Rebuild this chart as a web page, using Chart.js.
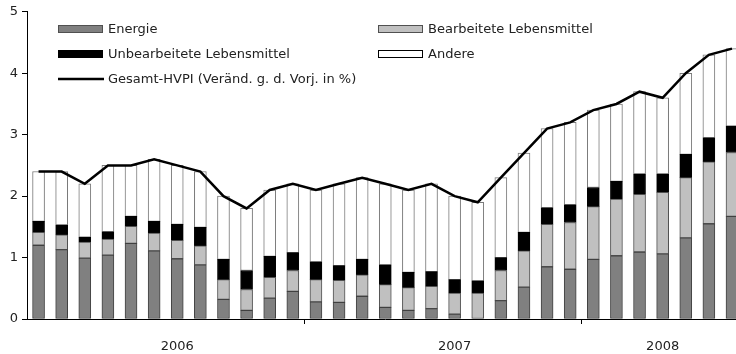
<!DOCTYPE html>
<html>
<head>
<meta charset="utf-8">
<script src="https://cdn.jsdelivr.net/npm/chart.js@4/dist/chart.umd.min.js"></script>
<style>
  html, body { margin: 0; padding: 0; background: #fff; overflow: hidden; }
  #wrap { position: absolute; left: 0; top: 0; width: 747px; height: 354px; }
</style>
</head>
<body>
<div id="wrap"><canvas id="hvpiChart"></canvas></div>
<script>
// Monate Jan 2006 bis Jul 2008
var monate = [
  "2006-01", "2006-02", "2006-03", "2006-04", "2006-05", "2006-06",
  "2006-07", "2006-08", "2006-09", "2006-10", "2006-11", "2006-12",
  "2007-01", "2007-02", "2007-03", "2007-04", "2007-05", "2007-06",
  "2007-07", "2007-08", "2007-09", "2007-10", "2007-11", "2007-12",
  "2008-01", "2008-02", "2008-03", "2008-04", "2008-05", "2008-06",
  "2008-07",
];

// Beiträge in Prozentpunkten
var energie = [
  1.20, 1.13, 0.99, 1.04, 1.23, 1.11, 0.98, 0.88, 0.32, 0.14, 0.34, 0.45,
  0.28, 0.27, 0.37, 0.19, 0.14, 0.17, 0.08, 0.00, 0.30, 0.52, 0.85, 0.81,
  0.97, 1.03, 1.09, 1.06, 1.32, 1.55, 1.67,
];
var bearbeitet = [
  0.21, 0.24, 0.26, 0.26, 0.28, 0.29, 0.30, 0.31, 0.32, 0.34, 0.34, 0.34,
  0.36, 0.36, 0.35, 0.37, 0.37, 0.36, 0.34, 0.42, 0.49, 0.59, 0.69, 0.76,
  0.86, 0.92, 0.94, 1.00, 0.98, 1.01, 1.04,
];
var unbearbeitet = [
  0.18, 0.16, 0.08, 0.12, 0.16, 0.19, 0.26, 0.30, 0.33, 0.31, 0.34, 0.29,
  0.29, 0.24, 0.25, 0.32, 0.25, 0.24, 0.22, 0.20, 0.21, 0.30, 0.27, 0.29,
  0.31, 0.29, 0.33, 0.30, 0.38, 0.39, 0.43,
];
var andere = [
  0.81, 0.87, 0.87, 1.08, 0.83, 1.01, 0.96, 0.91, 1.03, 1.01, 1.08, 1.12,
  1.17, 1.33, 1.33, 1.32, 1.34, 1.43, 1.36, 1.28, 1.30, 1.29, 1.29, 1.34,
  1.26, 1.26, 1.34, 1.24, 1.32, 1.35, 1.26,
];
var gesamt = [
  2.4, 2.4, 2.2, 2.5, 2.5, 2.6, 2.5, 2.4, 2.0, 1.8, 2.1, 2.2,
  2.1, 2.2, 2.3, 2.2, 2.1, 2.2, 2.0, 1.9, 2.3, 2.7, 3.1, 3.2,
  3.4, 3.5, 3.7, 3.6, 4.0, 4.3, 4.4,
];

var yTicks = [0, 1, 2, 3, 4, 5];

var schrift = "'DejaVu Sans', sans-serif";

// Jahreslabel jeweils in der Mitte der Monate eines Jahres
var jahrLabel = {};
var jahre = {};
monate.forEach(function (m, i) {
  var j = m.slice(0, 4);
  (jahre[j] = jahre[j] || []).push(i);
});
Object.keys(jahre).forEach(function (j) {
  var idx = jahre[j];
  jahrLabel[idx[Math.floor(idx.length / 2)]] = j;
});

// Legende in zwei Spalten, wie im Bericht
var legendePlugin = {
  id: "legende2spaltig",
  afterDraw: function (chart) {
    var c = chart.ctx;
    var ds = chart.data.datasets;
    var pos = [
      { x: 58, y: 29 },
      { x: 378, y: 29 },
      { x: 58, y: 54 },
      { x: 378, y: 54 },
      { x: 58, y: 79 },
    ];
    c.save();
    c.font = "13px " + schrift;
    c.textBaseline = "middle";
    ds.forEach(function (s, k) {
      var p = pos[k];
      if (s.type === "line") {
        c.strokeStyle = s.borderColor;
        c.lineWidth = 2.5;
        c.beginPath();
        c.moveTo(p.x, p.y);
        c.lineTo(p.x + 46, p.y);
        c.stroke();
      } else {
        c.fillStyle = s.backgroundColor;
        c.fillRect(p.x, p.y - 4, 45, 8);
        c.strokeStyle = s.legendBorder;
        c.lineWidth = 1;
        c.strokeRect(p.x + 0.5, p.y - 3.5, 44, 7);
      }
      c.fillStyle = "#222";
      c.fillText(s.label, p.x + 50, p.y + 1);
    });
    c.restore();
  },
};

var ctx = document.getElementById("hvpiChart").getContext("2d");
var hvpiChart = new Chart(ctx, {
  data: {
    labels: monate,
    datasets: [
      {
        type: "bar",
        label: "Energie",
        data: energie,
        backgroundColor: "#808080",
        borderColor: "#404040",
        legendBorder: "#505050",
        borderWidth: 1,
        borderSkipped: false,
        stack: "teile",
        order: 1,
      },
      {
        type: "bar",
        label: "Bearbeitete Lebensmittel",
        data: bearbeitet,
        backgroundColor: "#c0c0c0",
        borderColor: "#505050",
        legendBorder: "#505050",
        borderWidth: 1,
        borderSkipped: false,
        stack: "teile",
        order: 1,
      },
      {
        type: "bar",
        label: "Unbearbeitete Lebensmittel",
        data: unbearbeitet,
        backgroundColor: "#000000",
        borderColor: "#000000",
        legendBorder: "#000000",
        borderWidth: 1,
        borderSkipped: false,
        stack: "teile",
        order: 1,
      },
      {
        type: "bar",
        label: "Andere",
        data: andere,
        backgroundColor: "#ffffff",
        borderColor: "#7a7a7a",
        legendBorder: "#000000",
        borderWidth: 1,
        borderSkipped: false,
        stack: "teile",
        order: 1,
      },
      {
        type: "line",
        label: "Gesamt-HVPI (Veränd. g. d. Vorj. in %)",
        data: gesamt,
        borderColor: "#000000",
        borderWidth: 2.5,
        pointRadius: 0,
        tension: 0,
        fill: false,
        stack: "gesamt",
        order: 0,
      },
    ],
  },
  options: {
    responsive: true,
    maintainAspectRatio: false,
    animation: false,
    devicePixelRatio: 1,
    layout: { padding: { top: 2, left: 9, right: 0, bottom: 1 } },
    plugins: {
      legend: { display: false },
      tooltip: { enabled: false },
      title: { display: false },
    },
    datasets: {
      bar: { barThickness: 12 },
    },
    scales: {
      x: {
        stacked: true,
        afterFit: function (axis) {
          axis.height = 34;
        },
        grid: {
          drawOnChartArea: false,
          tickLength: 5,
          tickWidth: 1,
          color: function (c) {
            var i = c.index;
            if (i > 0 && i < monate.length && monate[i].slice(5) === "01") return "#000";
            return "rgba(0,0,0,0)";
          },
        },
        border: { display: true, color: "#000", width: 1 },
        ticks: {
          autoSkip: false,
          maxRotation: 0,
          padding: 15,
          color: "#222",
          font: { family: schrift, size: 13 },
          callback: function (v, i) {
            return jahrLabel[i] || "";
          },
        },
      },
      y: {
        stacked: true,
        min: yTicks[0],
        max: yTicks[yTicks.length - 1],
        afterBuildTicks: function (axis) {
          axis.ticks = yTicks.map(function (v) { return { value: v }; });
        },
        afterFit: function (axis) {
          axis.width = 18;
        },
        grid: {
          drawOnChartArea: false,
          tickLength: 5,
          color: "#000",
        },
        border: { display: true, color: "#000", width: 1 },
        ticks: {
          padding: 4,
          color: "#222",
          font: { family: schrift, size: 13 },
        },
      },
    },
  },
  plugins: [legendePlugin],
});
</script>
</body>
</html>
